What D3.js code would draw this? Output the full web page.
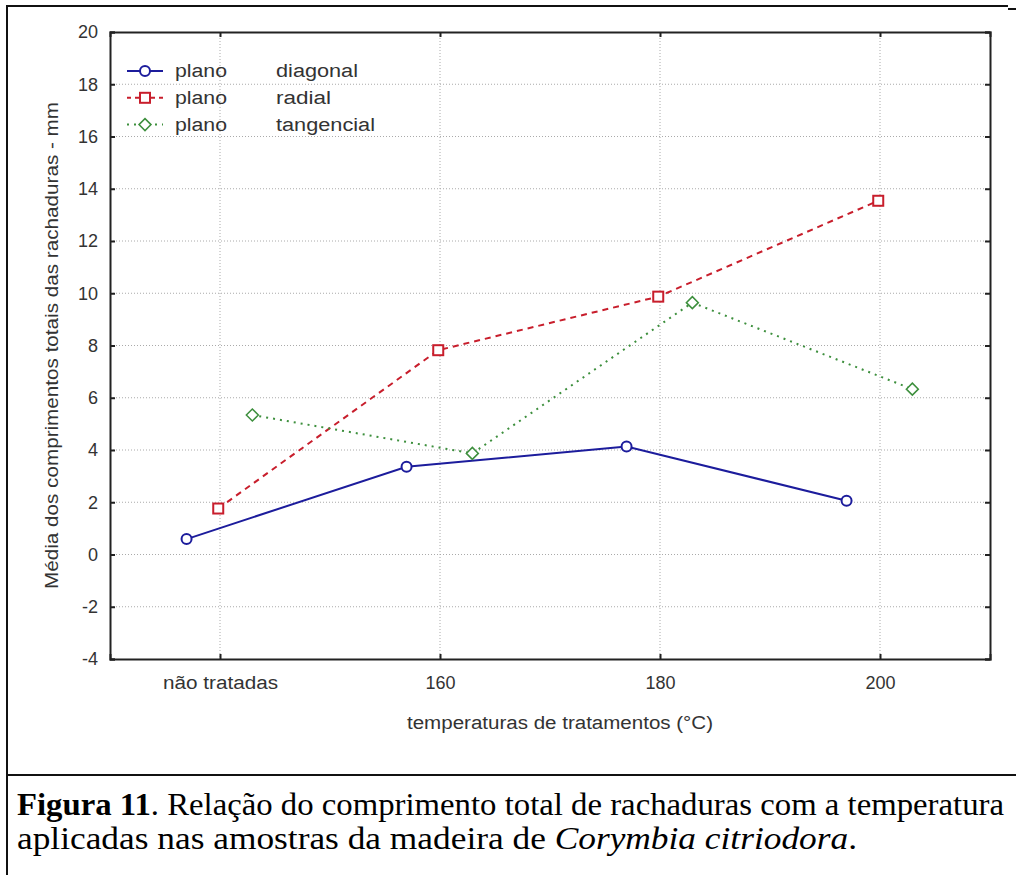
<!DOCTYPE html>
<html>
<head>
<meta charset="utf-8">
<script src="https://cdn.jsdelivr.net/npm/d3@7"></script>
<style>
  html, body { margin: 0; padding: 0; background: #fff; }
  svg { display: block; }
</style>
</head>
<body>
<div id="chart"></div>
<script>
// data
const categories = ['não tratadas', '160', '180', '200'];
const yTicks = [-4, -2, 0, 2, 4, 6, 8, 10, 12, 14, 16, 18, 20];
const diagonalValues = [0.59, 3.36, 4.13, 2.06];
const radialValues = [1.76, 7.82, 9.87, 13.54];
const tangencialValues = [5.34, 3.87, 9.64, 6.33];
const seriesNames = ['diagonal', 'radial', 'tangencial'];

const W = 1016, H = 875;
const margin = { top: 32, right: 26, bottom: 216, left: 110 };
const width = W - margin.left - margin.right;
const height = H - margin.top - margin.bottom;
const sansFont = "'Liberation Sans', Arial, sans-serif";
const textColor = '#333';

const series = [
    { name: seriesNames[0], values: diagonalValues, color: '#1c1c9c', dash: null, shift: -0.152, marker: 'circle' },
    { name: seriesNames[1], values: radialValues, color: '#c81e2c', dash: '6,5', shift: -0.008, marker: 'square' },
    { name: seriesNames[2], values: tangencialValues, color: '#3d8f3d', dash: '2,5', shift: 0.147, marker: 'diamond' },
];

const x = d3.scalePoint().domain(categories).range([0, width]).padding(0.5);
const y = d3.scaleLinear().domain([-4, 20]).range([height, 0]);

const root = d3.select('#chart').append('svg')
    .attr('width', W)
    .attr('height', H);

// fits a text element to a measured width
function fitWidth(sel, target) {
    sel.each(function () {
        const len = this.getComputedTextLength();
        if (len > 0) {
            d3.select(this).attr('textLength', target).attr('lengthAdjust', 'spacingAndGlyphs');
        }
    });
}

// outer frame and caption separator
root.append('path')
    .attr('d', 'M7,875 V6 H1008 M1008,9 H1016')
    .attr('fill', 'none')
    .attr('stroke', '#111')
    .attr('stroke-width', 2);
root.append('line')
    .attr('x1', 7).attr('x2', W)
    .attr('y1', 775).attr('y2', 775)
    .attr('stroke', '#111')
    .attr('stroke-width', 2);

const svg = root.append('g')
    .attr('transform', `translate(${margin.left},${margin.top})`);

// grid
svg.append('g').selectAll('line')
    .data(yTicks.slice(1, -1))
    .enter().append('line')
    .attr('x1', 0).attr('x2', width)
    .attr('y1', d => y(d)).attr('y2', d => y(d))
    .attr('stroke', '#aaa')
    .attr('stroke-width', 1)
    .attr('stroke-dasharray', '1,2');
svg.append('g').selectAll('line')
    .data(categories)
    .enter().append('line')
    .attr('x1', d => x(d)).attr('x2', d => x(d))
    .attr('y1', 0).attr('y2', height)
    .attr('stroke', '#aaa')
    .attr('stroke-width', 1)
    .attr('stroke-dasharray', '1,2');

// axes
svg.append('g')
    .call(d3.axisLeft(y).tickValues(yTicks).tickSize(-5).tickPadding(12).tickFormat(d => String(d)));
const bottomAxis = svg.append('g')
    .attr('transform', `translate(0,${height})`)
    .call(d3.axisBottom(x).tickSize(-5).tickPadding(17));
svg.append('g')
    .call(d3.axisTop(x).tickSize(-5).tickFormat(''));
svg.append('g')
    .attr('transform', `translate(${width},0)`)
    .call(d3.axisRight(y).tickValues(yTicks).tickSize(-5).tickFormat(''));

svg.selectAll('.domain').attr('stroke', '#222').attr('stroke-width', 2);
svg.selectAll('.tick line').attr('stroke', '#222').attr('stroke-width', 2);
svg.selectAll('.tick text')
    .style('font-size', '18px')
    .style('font-family', sansFont)
    .attr('fill', textColor);
bottomAxis.selectAll('.tick text').filter(d => d === categories[0]).call(fitWidth, 115);

// axis titles
svg.append('text')
    .attr('transform', `translate(${52 - margin.left},${height / 2}) rotate(-90)`)
    .attr('text-anchor', 'middle')
    .attr('dy', '0.35em')
    .style('font-size', '18px')
    .style('font-family', sansFont)
    .attr('fill', textColor)
    .text('Média dos comprimentos totais das rachaduras - mm')
    .call(fitWidth, 487);

svg.append('text')
    .attr('x', width / 2 + 10)
    .attr('y', height + 64)
    .attr('text-anchor', 'middle')
    .attr('dy', '0.35em')
    .style('font-size', '18px')
    .style('font-family', sansFont)
    .attr('fill', textColor)
    .text('temperaturas de tratamentos (°C)')
    .call(fitWidth, 306);

// markers
function drawMarker(g, kind, color) {
    if (kind === 'circle') {
        g.append('circle').attr('r', 5);
    } else if (kind === 'square') {
        g.append('rect').attr('x', -5).attr('y', -5).attr('width', 10).attr('height', 10);
    } else {
        g.append('path').attr('d', 'M0,-6 L6,0 L0,6 L-6,0 Z');
    }
    g.selectAll('*')
        .attr('fill', '#fff')
        .attr('stroke', color)
        .attr('stroke-width', kind === 'diamond' ? 1.5 : 2);
}

const line = d3.line()
    .x(d => d.x)
    .y(d => y(d.v));

series.forEach(s => {
    const pts = s.values.map((v, i) => ({ x: x(categories[i]) + s.shift * x.step(), v }));
    svg.append('path')
        .datum(pts)
        .attr('fill', 'none')
        .attr('stroke', s.color)
        .attr('stroke-width', 2)
        .attr('stroke-dasharray', s.dash)
        .attr('d', line);
    pts.forEach(p => {
        const g = svg.append('g').attr('transform', `translate(${p.x},${y(p.v)})`);
        drawMarker(g, s.marker, s.color);
    });
});

// legend
const legend = svg.append('g').attr('transform', `translate(${127 - margin.left},${71 - margin.top})`);
series.forEach((s, i) => {
    const row = legend.append('g').attr('transform', `translate(0,${i * 26.8})`);
    row.append('line')
        .attr('x1', 0).attr('x2', 36)
        .attr('stroke', s.color)
        .attr('stroke-width', 2)
        .attr('stroke-dasharray', s.dash === '6,5' ? '4,4' : s.dash);
    drawMarker(row.append('g').attr('transform', 'translate(18,0)'), s.marker, s.color);
    row.append('text')
        .attr('x', 48).attr('dy', '0.35em')
        .style('font-size', '18px')
        .style('font-family', sansFont)
        .attr('fill', textColor)
        .text('plano')
        .call(fitWidth, 52);
    row.append('text')
        .attr('x', 149).attr('dy', '0.35em')
        .style('font-size', '18px')
        .style('font-family', sansFont)
        .attr('fill', textColor)
        .text(s.name);
});
legend.selectAll('text').filter(function () { return d3.select(this).text() === 'diagonal'; }).call(fitWidth, 82);
legend.selectAll('text').filter(function () { return d3.select(this).text() === 'radial'; }).call(fitWidth, 55);
legend.selectAll('text').filter(function () { return d3.select(this).text() === 'tangencial'; }).call(fitWidth, 99);

// caption
const serif = "'Liberation Serif', 'Times New Roman', serif";
const cap1 = root.append('text')
    .attr('x', 17).attr('y', 815)
    .style('font-size', '32px')
    .style('font-family', serif)
    .attr('fill', '#000');
cap1.append('tspan').style('font-weight', 'bold').text('Figura 11');
cap1.append('tspan').text('. Relação do comprimento total de rachaduras com a temperatura');
cap1.call(fitWidth, 987);

const cap2 = root.append('text')
    .attr('x', 17).attr('y', 849)
    .style('font-size', '32px')
    .style('font-family', serif)
    .attr('fill', '#000');
cap2.append('tspan').text('aplicadas nas amostras da madeira de ');
cap2.append('tspan').style('font-style', 'italic').text('Corymbia citriodora');
cap2.append('tspan').text('.');
cap2.call(fitWidth, 840);
</script>
</body>
</html>
